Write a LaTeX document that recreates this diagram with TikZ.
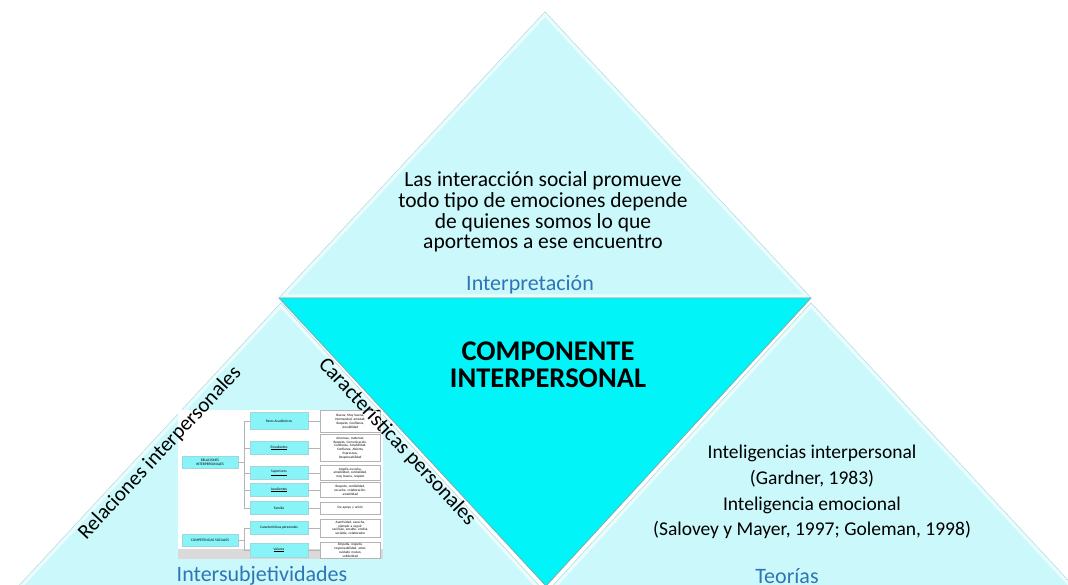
\documentclass[tikz,border=0pt]{standalone}
\usepackage{fontspec}
\setmainfont{Carlito}
\usepackage{tikz}
\usetikzlibrary{positioning}

\definecolor{trifill}{HTML}{CBF9FB}
\definecolor{corefill}{HTML}{00F4F8}
\definecolor{triedge}{HTML}{9CD8DC}
\definecolor{titleblue}{HTML}{2E75B6}
\definecolor{minifill}{HTML}{88F4F8}
\definecolor{minigray}{HTML}{DADADA}
\definecolor{miniline}{HTML}{B4B4B4}

\newcommand{\tribevel}[3]{%
  \begin{scope}
    \clip (#1) -- (#2) -- (#3) -- cycle;
    \draw[white, opacity=0.6, line width=7pt, line join=round] (#1) -- (#2) -- (#3) -- cycle;
  \end{scope}}

\begin{document}
\begin{tikzpicture}[x=1pt, y=-1pt,
    tri/.style={fill=trifill, draw=triedge, line width=0.8pt, line join=round},
    core/.style={fill=corefill, draw=triedge!80!black, line width=0.8pt, line join=round},
    bodytext/.style={align=center, inner sep=0pt, font=\fontsize{21.5}{20.7}\selectfont},
    sidelabel/.style={inner sep=0pt, font=\fontsize{21}{22}\selectfont},
    bluelabel/.style={inner sep=0pt, text=titleblue, font=\fontsize{22}{23}\selectfont},
    minibox/.style={fill=minifill, draw=triedge, line width=0.3pt, inner sep=0pt, align=center,
      minimum width=58pt, minimum height=13pt, font=\fontsize{3.6}{4.2}\selectfont},
    respbox/.style={fill=white, draw=miniline, line width=0.3pt, inner sep=0pt, align=center,
      minimum width=60pt, text width=58pt, font=\fontsize{3.4}{3.9}\selectfont},
    link/.style={draw=miniline, line width=0.4pt}]

    \useasboundingbox (0,0) rectangle (1068,585);
    \clip (0,0) rectangle (1068,585);

    % 三角形
    \coordinate (apex) at (545,12);
    \coordinate (topL) at (279,298);
    \coordinate (topR) at (811,298);
    \coordinate (coreB) at (546,586);
    \coordinate (leftA) at (281,303);
    \coordinate (leftL) at (16,589);
    \coordinate (leftR) at (542,589);
    \coordinate (rightA) at (811,303);
    \coordinate (rightL) at (550,589);
    \coordinate (rightR) at (1076,589);

    \draw[tri] (apex) -- (topL) -- (topR) -- cycle;
    \tribevel{apex}{topL}{topR}
    \draw[tri] (leftA) -- (leftL) -- (leftR) -- cycle;
    \tribevel{leftA}{leftL}{leftR}
    \draw[tri] (rightA) -- (rightL) -- (rightR) -- cycle;
    \tribevel{rightA}{rightL}{rightR}
    \draw[core] (topL) -- (topR) -- (coreB) -- cycle;

    % 小图
    \fill[white] (178,410) rectangle (383,550);
    \fill[minigray] (178,549) rectangle (383,559);

    \node[minibox, minimum width=56pt, minimum height=12pt] (relint) at (210,462) {RELACIONES\\INTERPERSONALES};
    \node[minibox, minimum width=56pt, minimum height=12pt] (compsoc) at (210,540) {COMPETENCIAS SOCIALES};

    \node[minibox, minimum height=17pt] (pares) at (279,421) {Pares Académicos};
    \node[minibox] (estud) at (279,448) {\underline{Estudiantes}};
    \node[minibox] (super) at (279,473) {\underline{Superiores}};
    \node[minibox] (acud) at (279,490) {\underline{Acudientes}};
    \node[minibox] (fam) at (279,508) {Familia};
    \node[minibox] (caract) at (279,528) {Características personales};
    \node[minibox, minimum height=14pt] (valores) at (279,550) {\underline{Valores}};

    \node[respbox, minimum height=22pt, right=12pt of pares] (r1) {Buena, Muy buena,\\Hermandad, amistad,\\Respeto, Confianza,\\Amabilidad};
    \node[respbox, minimum height=27pt, right=12pt of estud] (r2) {Amorosa, maternal,\\Respeto, Comunicación,\\Confianza, Amabilidad,\\Confianza, Abierta,\\Expresivas,\\Responsabilidad};
    \node[respbox, minimum height=15pt, right=12pt of super] (r3) {Amplia escucha,\\amabilidad, cordialidad,\\muy buena, respeto};
    \node[respbox, minimum height=15pt, right=12pt of acud] (r4) {Respeto, cordialidad,\\escucha, colaboración,\\amabilidad};
    \node[respbox, minimum height=12pt, right=12pt of fam] (r5) {De apoyo y unión};
    \node[respbox, minimum height=18pt, right=12pt of caract] (r6) {Asertividad, escucha,\\ejemplo a seguir,\\cariñoso, amable, cordial,\\sociable, colaborador};
    \node[respbox, minimum height=16pt, right=12pt of valores] (r7) {Empatía, respeto,\\responsabilidad, amor,\\cuidado mutuo,\\solidaridad};

    \foreach \m in {pares,estud,super,acud,fam}
        \draw[link] (relint.east) -- ++(6,0) |- (\m.west);
    \foreach \m in {caract,valores}
        \draw[link] (compsoc.east) -- ++(6,0) |- (\m.west);
    \foreach \m/\r in {pares/r1,estud/r2,super/r3,acud/r4,fam/r5,caract/r6,valores/r7}
        \draw[link] (\m) -- (\r);

    % 文字
    \node[bodytext] (encuentro) at (543,212) {Las interacción social promueve\\todo tipo de emociones depende\\de quienes somos lo que\\aportemos a ese encuentro};
    \node[bluelabel] (interp) at (530,285) {Interpretación};
    \node[align=center, inner sep=0pt, font=\bfseries\fontsize{28.5}{27}\selectfont] (componente) at (548,365) {COMPONENTE\\INTERPERSONAL};
    \node[sidelabel, rotate=47] (relaciones) at (160,453) {Relaciones interpersonales};
    \node[sidelabel, rotate=-47] (caracteristicas) at (397,442) {Características personales};
    \node[bluelabel] (intersub) at (262,576) {Intersubjetividades};
    \node[bluelabel] (teorias) at (787,576) {Teorías};
    \node[align=center, inner sep=0pt, font=\fontsize{19.5}{25.7}\selectfont] (autores) at (812,492) {Inteligencias interpersonal\\(Gardner, 1983)\\Inteligencia emocional\\(Salovey y Mayer, 1997; Goleman, 1998)};

\end{tikzpicture}
\end{document}
